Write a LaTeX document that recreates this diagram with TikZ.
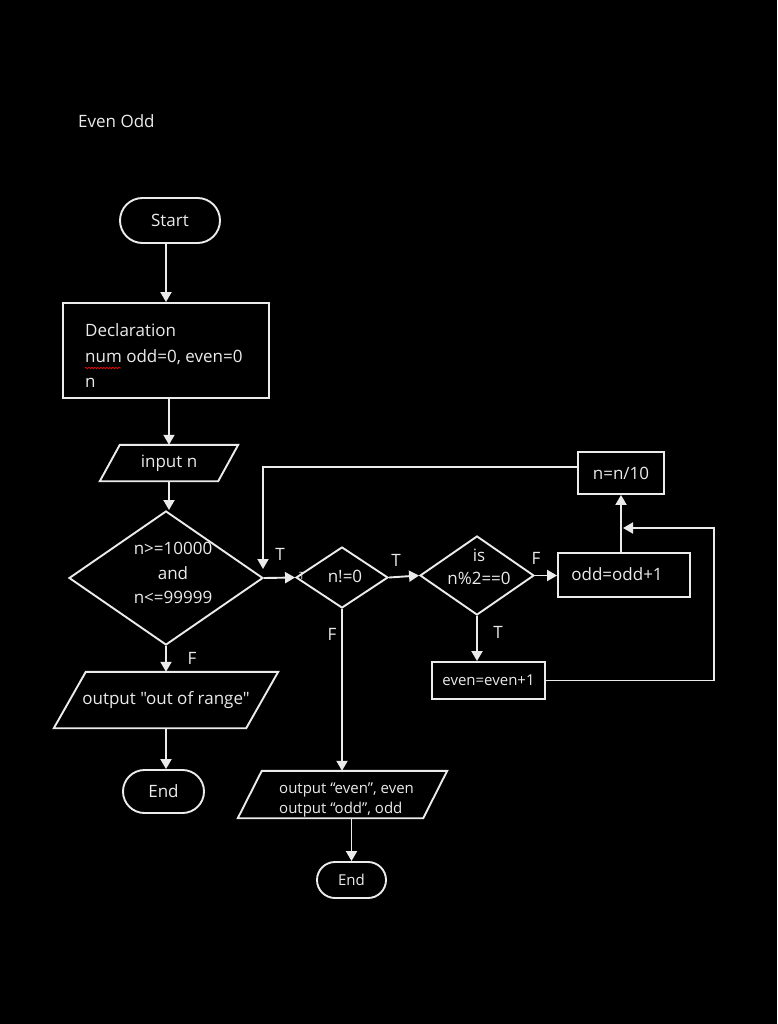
\documentclass[tikz,border=0pt]{standalone}
\usepackage{fontspec}
\setmainfont{Open Sans}[Ligatures=TeXOff]
\usetikzlibrary{arrows.meta,decorations.pathmorphing,shapes.geometric,shapes.misc}
\definecolor{fg}{RGB}{235,235,235}
\begin{document}
\begin{tikzpicture}[x=1pt,y=-1pt,
  line/.style={draw=fg, line width=1.9pt},
  arr/.style={line, -{Triangle[width=11pt,length=10pt]}},
  txt/.style={text=fg, font=\fontsize{17}{24}\selectfont, inner sep=1pt},
  small/.style={text=fg, font=\fontsize{15}{20}\selectfont, inner sep=1pt},
  term/.style={line, rounded rectangle, inner sep=0pt},
  box/.style={line, rectangle, inner sep=0pt},
  dia/.style={line, diamond, inner sep=0pt},
  para/.style={inner sep=0pt}
]
\fill[black] (0,0) rectangle (777,1024);
\useasboundingbox (0,0) rectangle (777,1024);

% title
\node[txt, anchor=west] (title) at (77,121) {Even Odd};

% left column
\node[term, minimum width=102pt, minimum height=45pt, txt] (start) at (170,220.5) {Start};
\node[box, minimum width=206pt, minimum height=95pt] (decl) at (166,350.5) {};
\node[txt, anchor=west, align=left, font=\fontsize{17}{25.5}\selectfont] (decltxt) at (84,356) {Declaration\\num odd=0, even=0\\n};
\draw[red, line width=0.6pt, decorate, decoration={snake, amplitude=0.8pt, segment length=3pt}] (85,368) -- (121,368);

\node[para, txt, minimum width=138pt, minimum height=36pt] (in) at (169,463) {input n};
\draw[line] ([xshift=20pt]in.north west) -- (in.north east) -- ([xshift=-20pt]in.south east) -- (in.south west) -- cycle;

\node[dia, minimum width=194pt, minimum height=134pt] (d1) at (166,578) {};
\node[txt, align=center, font=\fontsize{17}{24.5}\selectfont] (d1txt) at (173,573) {n>=10000\\and\\n<=99999};

\node[para, txt, minimum width=224pt, minimum height=56pt] (out) at (166,700) {output "out of range"};
\draw[line] ([xshift=32pt]out.north west) -- (out.north east) -- ([xshift=-32pt]out.south east) -- (out.south west) -- cycle;

\node[term, minimum width=83pt, minimum height=43pt, txt] (end1) at (163.5,791.5) {End};

% loop part
\node[dia, minimum width=92pt, minimum height=61pt] (d2) at (342,577.5) {};
\node[txt] (d2txt) at (345,576) {n!=0};

\node[dia, minimum width=114pt, minimum height=79pt] (d3) at (477,575.5) {};
\node[txt, align=center, font=\fontsize{17}{23}\selectfont] (d3txt) at (479,567) {is\\n\%2==0};

\node[box, minimum width=132pt, minimum height=44pt] (odd) at (624,575) {};
\node[txt] (oddtxt) at (617,574) {odd=odd+1};

\node[box, minimum width=86pt, minimum height=42pt, txt] (n10) at (621,473) {n=n/10};

\node[box, minimum width=113pt, minimum height=37pt, small] (even) at (488.5,680.5) {even=even+1};

\node[para, minimum width=209pt, minimum height=47pt] (out2) at (342.5,794.5) {};
\draw[line] ([xshift=24pt]out2.north west) -- (out2.north east) -- ([xshift=-24pt]out2.south east) -- (out2.south west) -- cycle;
\node[small, anchor=west, align=left] (out2txt) at (278,800) {output “even”, even\\output “odd”, odd};

\node[term, minimum width=71pt, minimum height=36pt, small] (end2) at (351.5,880) {End};

% labels
\node[txt] (t1) at (280,554) {T};
\node[txt] (f1) at (192,658) {F};
\node[txt] (t2) at (396,560) {T};
\node[txt] (f2) at (536,558) {F};
\node[txt] (t3) at (498,632) {T};
\node[txt] (f3) at (332,634) {F};

% connectors
\coordinate (lt) at (263,467);
\coordinate (lp) at (263,569);
\coordinate (rc) at (714,528);
\coordinate (mj) at (623,528);

\draw[arr] (start.south -| decl.north) -- (decl.north);
\draw[arr] (decl.south -| in.north) -- (in.north);
\draw[arr] (in.south) -- (in.south |- d1.north);
\draw[arr] (d1.east) -- (d2.west);
\node[txt, font=\fontsize{10}{11}\selectfont] (t0) at (302,576) {T};
\draw[arr] (n10.west |- lt) -- (lt) -- (lp);
\draw[arr] (d2.east) -- (d3.west);
\draw[arr] (d3.east) -- (d3.east -| odd.west);
\draw[arr] (odd.north -| n10.south) -- (n10.south);
\draw[arr] (d3.south) -- (d3.south |- even.north);
\draw[arr] (even.east) -| (rc) -- (mj);
\draw[arr] (d1.south) -- (out.north);
\draw[arr] (out.south) -- (out.south |- end1.north);
\draw[arr] (d2.south) -- (d2.south |- out2.north);
\draw[arr] (out2.south -| end2.north) -- (end2.north);
\end{tikzpicture}
\end{document}
